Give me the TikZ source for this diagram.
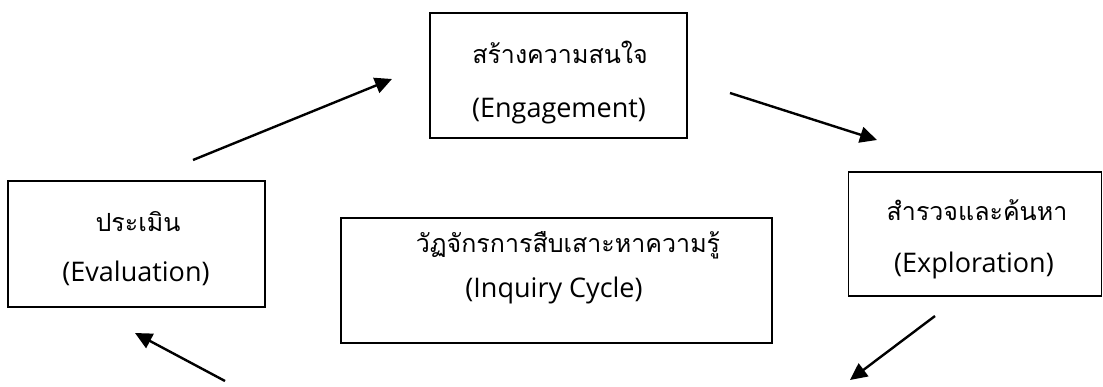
\documentclass[tikz,border=0pt]{standalone}
\usepackage{fontspec}
\usetikzlibrary{arrows.meta}
\newfontfamily\thaifont[Script=Thai]{Loma}
\newfontfamily\latfont{Open Sans}
\tikzset{
  cyclebox/.style={draw=black, line width=1.9pt, fill=none, inner sep=0pt},
  thaitxt/.style={font=\thaifont\fontsize{25}{29}\selectfont, inner sep=0pt},
  lattxt/.style={font=\latfont\fontsize{27}{31}\selectfont, inner sep=0pt},
  cyclearrow/.style={line width=2.4pt, -{Triangle[length=17pt,width=16pt]}}
}
\begin{document}
\begin{tikzpicture}[x=1pt,y=-1pt]
\useasboundingbox (0,0) rectangle (1103,387);
% boxes
\node[cyclebox, minimum width=257pt, minimum height=125pt] (eng) at (558.5,75.5) {};
\node[cyclebox, minimum width=257pt, minimum height=126pt] (eva) at (136.5,244) {};
\node[cyclebox, minimum width=253pt, minimum height=124pt] (exp) at (975,234) {};
\node[cyclebox, minimum width=431pt, minimum height=125pt] (inq) at (556.5,280.5) {};
% texts
\node[thaitxt] (engT) at (560,52) {สร้างความสนใจ};
\node[lattxt] (engL) at (559,111) {(Engagement)};
\node[thaitxt] (evaT) at (138,222) {ประเมิน};
\node[lattxt] (evaL) at (136,273) {(Evaluation)};
\node[thaitxt] (expT) at (977,210) {สำรวจและค้นหา};
\node[lattxt] (expL) at (974,265) {(Exploration)};
\node[thaitxt] (inqT) at (568,245) {วัฏจักรการสืบเสาะหาความรู้};
\node[lattxt] (inqL) at (554,290) {(Inquiry Cycle)};
% arrow ends
\coordinate (a1s) at (193,160); \coordinate (a1e) at (392,79);
\coordinate (a2s) at (730,93);  \coordinate (a2e) at (877,140);
\coordinate (a3s) at (935,316); \coordinate (a3e) at (850,380);
\coordinate (a4s) at (225,381); \coordinate (a4e) at (135,333);
\draw[cyclearrow] (a1s) -- (a1e);
\draw[cyclearrow] (a2s) -- (a2e);
\draw[cyclearrow] (a3s) -- (a3e);
\draw[cyclearrow] (a4s) -- (a4e);
\end{tikzpicture}
\end{document}
